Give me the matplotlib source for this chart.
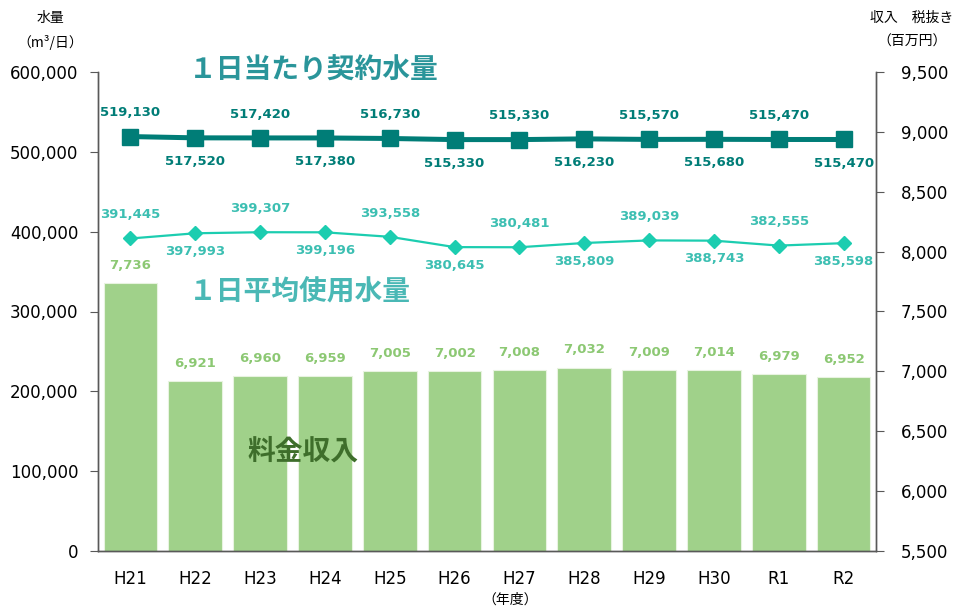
import numpy as np
import matplotlib
matplotlib.use("Agg")
import matplotlib.pyplot as plt

plt.rcParams['font.family'] = ['DejaVu Sans', 'Noto Sans CJK JP']

# data
years = ['H21', 'H22', 'H23', 'H24', 'H25', 'H26', 'H27', 'H28', 'H29', 'H30', 'R1', 'R2']
contract = [519130, 517520, 517420, 517380, 516730, 515330, 515330, 516230, 515570, 515680, 515470, 515470]
usage = [391445, 397993, 399307, 399196, 393558, 380645, 380481, 385809, 389039, 388743, 382555, 385598]
revenue = [7736, 6921, 6960, 6959, 7005, 7002, 7008, 7032, 7009, 7014, 6979, 6952]

left_ticks = [0, 100000, 200000, 300000, 400000, 500000, 600000]
right_ticks = [5500, 6000, 6500, 7000, 7500, 8000, 8500, 9000, 9500]

c_contract = '#007d77'
c_usage = '#1ccdb0'
c_usage_txt = '#3cbfb2'
c_bar = '#a0d18a'
c_bar_txt = '#8cc873'
c_spine = '#595959'

fig = plt.figure(figsize=(9.57, 6.13), dpi=100)
ax = fig.add_axes([98 / 957, 62 / 613, 778 / 957, 479 / 613])
ax2 = ax.twinx()

x = np.arange(len(years))

# bars on the right axis
ax2.bar(x, revenue, width=0.83, color=c_bar, edgecolor='#e8f3e0', linewidth=0.8)
ax2.set_ylim(5500, 9500)
ax2.set_yticks(right_ticks)
ax2.set_yticklabels([f'{v:,}' for v in right_ticks])
for i, v in enumerate(revenue):
    ax2.annotate(f'{v:,}', (x[i], v), xytext=(0, 8), textcoords='offset points',
                 ha='center', va='bottom', fontsize=9.5, fontweight='bold', color=c_bar_txt)

# lines on the left axis, drawn above the bars
ax.set_zorder(ax2.get_zorder() + 1)
ax.patch.set_visible(False)
ax.plot(x, contract, color=c_contract, lw=3.6, marker='s', ms=11.5, zorder=3)
ax.plot(x, usage, color=c_usage, lw=1.6, marker='D', ms=7.5, zorder=3)

for i, v in enumerate(contract):
    dy = 17 if i % 2 == 0 else -17
    ax.annotate(f'{v:,}', (x[i], v), xytext=(0, dy), textcoords='offset points',
                ha='center', va='center', fontsize=9.5, fontweight='bold', color=c_contract)
for i, v in enumerate(usage):
    dy = 17 if i % 2 == 0 else -13
    ax.annotate(f'{v:,}', (x[i], v), xytext=(0, dy), textcoords='offset points',
                ha='center', va='center', fontsize=9.5, fontweight='bold', color=c_usage_txt)

ax.set_ylim(0, 600000)
ax.set_xlim(-0.5, len(years) - 0.5)
ax.set_yticks(left_ticks)
ax.set_yticklabels([f'{v:,}' for v in left_ticks])
ax.set_xticks(x)
ax.set_xticklabels(years)

for a in (ax, ax2):
    a.spines['top'].set_visible(False)
    for s in ('left', 'right', 'bottom'):
        a.spines[s].set_color(c_spine)
        a.spines[s].set_linewidth(1.0)
ax.tick_params(axis='y', direction='out', length=6, color=c_spine, labelsize=12, pad=8)
ax2.tick_params(axis='y', direction='out', length=6, color=c_spine, labelsize=12, pad=12)
ax.tick_params(axis='x', length=0, labelsize=12, pad=14)

# series titles
ax.text(0.9, 602000, '１日当たり契約水量', fontsize=20, fontweight='bold', color='#2a959a',
        ha='left', va='center', family=['Noto Sans CJK JP'])
ax.text(0.9, 324000, '１日平均使用水量', fontsize=20, fontweight='bold', color='#4ab8b5',
        ha='left', va='center', family=['Noto Sans CJK JP'])
ax.text(1.8, 124000, '料金収入', fontsize=20, fontweight='bold', color='#3e6e2b',
        ha='left', va='center', family=['Noto Sans CJK JP'])

# axis captions
fig.text(50 / 957, 1 - 18 / 613, '水量', fontsize=10, ha='center', va='center',
         family=['Noto Sans CJK JP', 'DejaVu Sans'])
fig.text(50 / 957, 1 - 42 / 613, '（m³/日）', fontsize=10, ha='center', va='center',
         family=['Noto Sans CJK JP', 'DejaVu Sans'])
fig.text(912 / 957, 1 - 18 / 613, '収入　税抜き', fontsize=10, ha='center', va='center',
         family=['Noto Sans CJK JP', 'DejaVu Sans'])
fig.text(912 / 957, 1 - 42 / 613, '（百万円）', fontsize=10, ha='center', va='center',
         family=['Noto Sans CJK JP', 'DejaVu Sans'])
fig.text(510 / 957, 1 - 600 / 613, '（年度）', fontsize=10, ha='center', va='center',
         family=['Noto Sans CJK JP', 'DejaVu Sans'])

fig.savefig('out.png', dpi=100)
